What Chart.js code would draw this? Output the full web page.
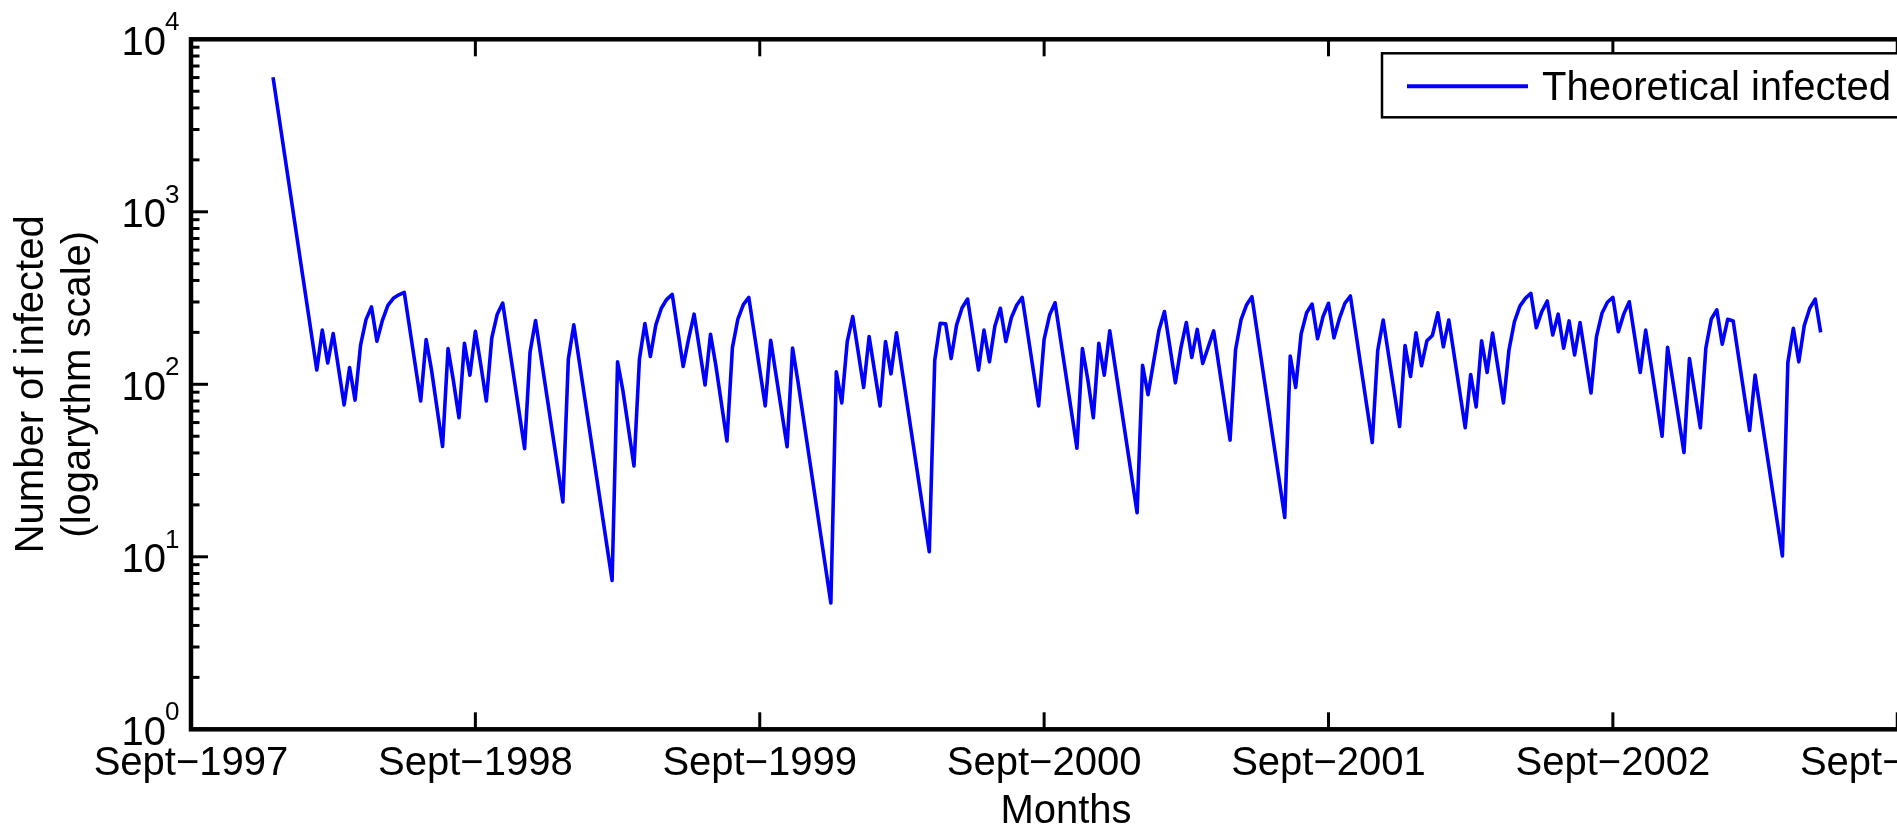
<!DOCTYPE html>
<html lang="en">
<head>
<meta charset="UTF-8">
<title>Theoretical infected</title>
<script src="https://cdn.jsdelivr.net/npm/chart.js@4.4.1/dist/chart.umd.min.js"></script>
<style>
  html, body { margin: 0; padding: 0; overflow: hidden; background: #fff; }
  canvas { display: block; }
</style>
</head>
<body>
<canvas id="chart" width="1960" height="832"></canvas>
<script>
// week index (0 = Sept 1997) of each drawn vertex, and the value there
const weeks = [15, 23, 24, 25, 26, 28, 29, 30, 31, 32, 33, 34, 35, 36, 37, 38, 39,
  42, 43, 44, 46, 47, 48, 49, 50, 51, 52, 53, 54, 55, 56, 57, 61, 62, 63, 68, 69, 70,
  77, 78, 79, 81, 82, 83, 84, 85, 86, 87, 88, 90, 91, 92, 94, 95, 96, 98, 99, 100, 101, 102,
  105, 106, 109, 110, 111, 117, 118, 119, 120, 121, 123, 124, 126, 127, 128, 129,
  135, 136, 137, 138, 139, 140, 141, 142, 144, 145, 146, 147, 148, 149, 150, 151, 152,
  155, 156, 157, 158, 162, 163, 164, 165, 166, 167, 168, 173, 174, 175, 177, 178,
  180, 181, 182, 183, 184, 185, 187, 190, 191, 192, 193, 194, 200, 201, 202, 203, 204,
  205, 206, 207, 208, 209, 210, 211, 212, 216, 217, 218, 221, 222, 223, 224, 225, 226,
  227, 228, 229, 230, 233, 234, 235, 236, 237, 238, 240, 241, 242, 243, 244, 245, 246,
  247, 248, 249, 250, 251, 252, 253, 254, 256, 257, 258, 259, 260, 261, 262, 263, 265,
  266, 269, 270, 273, 274, 276, 277, 278, 279, 280, 281, 282, 285, 286, 291, 292, 293,
  294, 295, 296, 297, 298];
const infected = [6030, 121, 206, 133, 197, 76, 125, 81, 168, 237, 281, 178, 235, 287, 315, 330, 341,
  80, 182, 120, 43.6, 161, 104, 64, 173, 113, 203, 129, 80, 186, 255, 296, 42.4, 154, 234, 20.8, 140, 221,
  7.3, 135, 91, 33.6, 140, 225, 145, 221, 276, 311, 332, 127, 184, 255, 99, 195, 127, 46.9, 163, 239, 290, 319,
  75, 180, 43.5, 162, 103, 5.4, 118, 78, 177, 247, 96, 189, 75, 177, 115, 199,
  10.7, 138, 226, 224, 141, 221, 278, 312, 121, 206, 135, 218, 276, 177, 243, 288, 319,
  75, 182, 252, 297, 42.6, 161, 106, 64, 173, 113, 204, 18, 129, 87, 206, 264,
  102, 162, 228, 143, 208, 132, 204, 47.5, 158, 236, 288, 322, 16.9, 146, 96, 196, 260,
  292, 184, 247, 295, 186, 241, 295, 325, 46, 157, 236, 57, 168, 111, 199, 128, 179,
  192, 260, 165, 236, 56, 114, 74, 179, 117, 198, 78, 158, 231, 284, 315, 337, 213,
  264, 304, 193, 255, 162, 233, 148, 228, 89, 189, 258, 299, 319, 202, 256, 301, 117,
  206, 50, 164, 40.3, 141, 56, 162, 239, 270, 171, 238, 233, 54, 113, 10.1, 134, 211,
  135, 219, 276, 312, 200];

const yearWeeks = [0, 52, 104, 156, 208, 260, 312];
const yearLabels = ['Sept\u22121997', 'Sept\u22121998', 'Sept\u22121999', 'Sept\u22122000',
  'Sept\u22122001', 'Sept\u22122002', 'Sept\u22122003'];
const decades = [1, 10, 100, 1000, 10000];
const exponents = ['0', '1', '2', '3', '4'];

const FONT = "'Liberation Sans', Arial, Helvetica, sans-serif";
Chart.defaults.font.family = FONT;
Chart.defaults.color = '#000';

// inside ticks, box, y labels with superscripts and the legend
const matlabAxes = {
  id: 'matlabAxes',
  afterDatasetsDraw(chart) {
    const { ctx, chartArea: a, scales: { x, y } } = chart;
    ctx.save();
    ctx.strokeStyle = '#000';
    ctx.lineWidth = 3;
    const seg = (x1, y1, x2, y2) => { ctx.beginPath(); ctx.moveTo(x1, y1); ctx.lineTo(x2, y2); ctx.stroke(); };

    yearWeeks.forEach(w => {
      const px = x.getPixelForValue(w);
      seg(px, a.bottom, px, a.bottom - 17);
      seg(px, a.top, px, a.top + 17);
    });
    decades.forEach((d, i) => {
      const steps = i < decades.length - 1 ? 9 : 1;
      for (let m = 1; m <= steps; m++) {
        const py = y.getPixelForValue(d * m);
        const len = m === 1 ? 17 : 8.5;
        seg(a.left, py, a.left + len, py);
        seg(a.right, py, a.right - len, py);
      }
    });
    ctx.lineWidth = 4.5;
    ctx.strokeRect(a.left, a.top, a.right - a.left, a.bottom - a.top);

    ctx.fillStyle = '#000';
    ctx.textBaseline = 'alphabetic';
    decades.forEach((d, i) => {
      const py = y.getPixelForValue(d);
      ctx.font = '40px ' + FONT;
      ctx.textAlign = 'right';
      ctx.fillText('10', a.left - 25, py + 15.5);
      ctx.font = '26px ' + FONT;
      ctx.textAlign = 'left';
      ctx.fillText(exponents[i], a.left - 26, py - 9);
    });

    // legend box, north-east inside the axes
    const lx = a.right - 559, ly = a.top + 14, lw = 545, lh = 64;
    ctx.fillStyle = '#fff';
    ctx.fillRect(lx, ly, lw, lh);
    ctx.strokeStyle = '#000';
    ctx.lineWidth = 2.5;
    ctx.strokeRect(lx, ly, lw, lh);
    const ds = chart.data.datasets[0];
    ctx.strokeStyle = ds.borderColor;
    ctx.lineWidth = 4;
    seg(lx + 25, ly + 33, lx + 146, ly + 33);
    ctx.fillStyle = '#000';
    ctx.font = '40px ' + FONT;
    ctx.textAlign = 'left';
    ctx.fillText(ds.label, lx + 160, ly + 47);
    ctx.restore();
  }
};

new Chart(document.getElementById('chart'), {
  type: 'line',
  data: {
    datasets: [{
      label: 'Theoretical infected',
      data: weeks.map((w, i) => ({ x: w, y: infected[i] })),
      borderColor: '#0000ff',
      borderWidth: 3.6,
      borderJoinStyle: 'round',
      pointRadius: 0,
      tension: 0,
      fill: false
    }]
  },
  options: {
    responsive: false,
    animation: false,
    devicePixelRatio: 1,
    layout: { padding: { top: 39.3, right: 19, left: 0, bottom: 0 } },
    plugins: { legend: { display: false }, tooltip: { enabled: false } },
    scales: {
      x: {
        type: 'linear',
        min: 0,
        max: 320,
        grid: { display: false, drawTicks: false },
        border: { display: false },
        afterBuildTicks: s => { s.ticks = yearWeeks.map(v => ({ value: v })); },
        afterFit: s => { s.height = 102.7; s.paddingLeft = 0; s.paddingRight = 0; },
        ticks: {
          autoSkip: false,
          maxRotation: 0,
          padding: 11,
          font: { size: 40, lineHeight: 1.2 },
          color: '#000',
          callback: (v, i) => yearLabels[i]
        },
        title: {
          display: true,
          text: 'Months',
          color: '#000',
          font: { size: 40, lineHeight: 1 },
          padding: { top: 0, bottom: 0 }
        }
      },
      y: {
        type: 'logarithmic',
        min: 1,
        max: 10000,
        grid: { display: false, drawTicks: false },
        border: { display: false },
        ticks: { display: false },
        afterFit: s => { s.width = 191; s.paddingTop = 0; s.paddingBottom = 0; },
        title: {
          display: true,
          text: ['Number of infected', '(logarythm scale)'],
          color: '#000',
          font: { size: 40, lineHeight: 1.175 },
          padding: { top: 8, bottom: 0 }
        }
      }
    }
  },
  plugins: [matlabAxes]
});
</script>
</body>
</html>
